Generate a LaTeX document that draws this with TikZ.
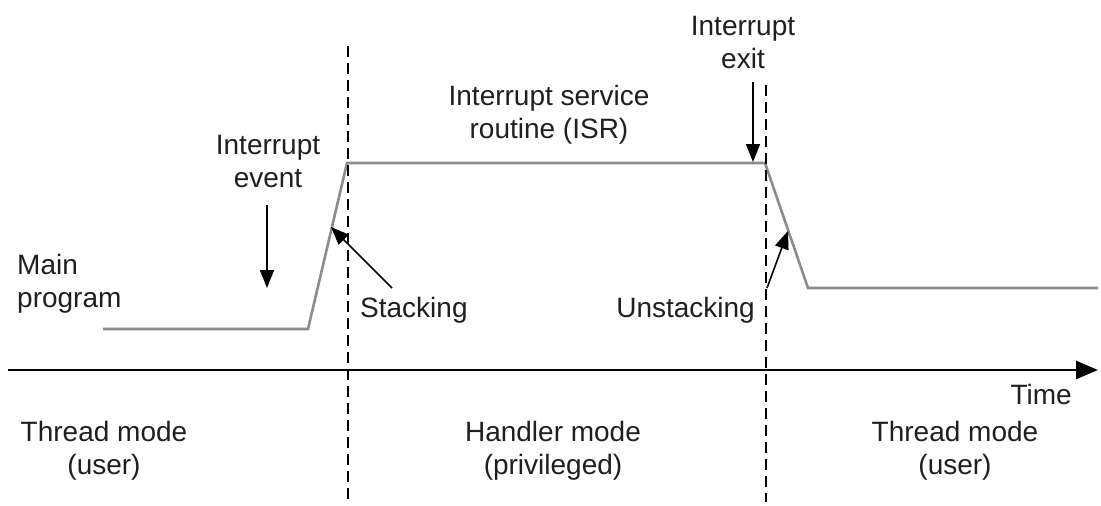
\documentclass[tikz,border=0pt]{standalone}
\usepackage{fontspec}
\setmainfont{Liberation Sans}
\usetikzlibrary{arrows.meta}
\begin{document}
\begin{tikzpicture}[x=1pt,y=-1pt,
  lbl/.style={font=\fontsize{28}{33}\selectfont, align=center, inner sep=0pt, text=black!88},
  sig/.style={draw=black!45, line width=2.6pt},
  vdash/.style={draw=black, line width=1.4pt, dash pattern=on 11pt off 6pt},
  ptr/.style={draw=black, line width=1.6pt, -{Triangle[length=18pt,width=14pt]}},
  axis/.style={draw=black, line width=2.6pt, -{Triangle[length=22pt,width=18pt]}}]
\useasboundingbox (0,0) rectangle (1101,506);
% signal points
\coordinate (s0) at (103,329);
\coordinate (s1) at (308,329);
\coordinate (s2) at (347,163);
\coordinate (s3) at (765,163);
\coordinate (s4) at (808,288);
\coordinate (s5) at (1098,288);
\draw[sig] (s0) -- (s1) -- (s2) -- (s3) -- (s4) -- (s5);
% dashed mode boundaries
\coordinate (d1t) at (348,46);
\coordinate (d1b) at (348,502);
\coordinate (d2t) at (766,85);
\coordinate (d2b) at (766,502);
\draw[vdash] (d1t) -- (d1b);
\draw[vdash] (d2t) -- (d2b);
% time axis
\coordinate (a0) at (8,370);
\coordinate (a1) at (1098,370);
\draw[axis] (a0) -- (a1);
% labels
\node[lbl, anchor=east] (time) at (1072,394) {Time};
\node[lbl] (thr1) at (104,451) {Thread mode\\(user)};
\node[lbl] (hdl) at (553,451) {Handler mode\\(privileged)};
\node[lbl] (thr2) at (955,451) {Thread mode\\(user)};
\node[lbl, align=left, anchor=west] (main) at (17,284) {Main\\program};
\node[lbl] (ievt) at (268,162) {Interrupt\\event};
\node[lbl, anchor=west] (stk) at (360,310) {Stacking};
\node[lbl] (isr) at (549,115) {Interrupt service\\routine (ISR)};
\node[lbl] (iexit) at (743,43) {Interrupt\\exit};
\node[lbl, anchor=east] (ustk) at (755,310) {Unstacking};
% pointers
\coordinate (e0) at (267,205);
\coordinate (e1) at (267,288);
\draw[ptr] (e0) -- (e1);
\coordinate (k0) at (392,288);
\coordinate (k1) at (331,227);
\draw[ptr] (k0) -- (k1);
\coordinate (x0) at (753,82);
\coordinate (x1) at (753,162);
\draw[ptr] (x0) -- (x1);
\coordinate (u0) at (767,288);
\coordinate (u1) at (788,231);
\draw[ptr] (u0) -- (u1);
\end{tikzpicture}
\end{document}
